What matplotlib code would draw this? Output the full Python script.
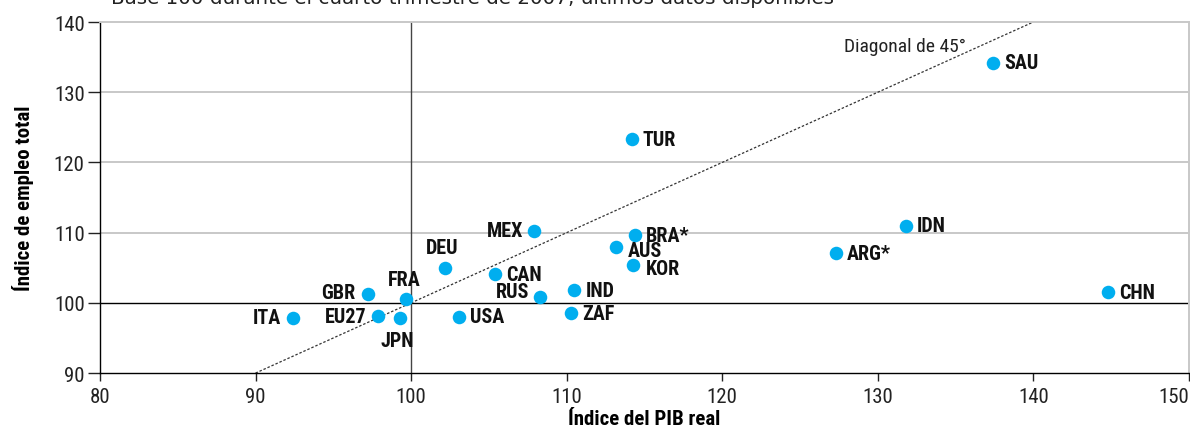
import matplotlib
matplotlib.use("Agg")
import matplotlib.pyplot as plt
from matplotlib import font_manager

# pick a condensed font if one is installed
available = {(f.name, f.stretch) for f in font_manager.fontManager.ttflist}
names = {f.name for f in font_manager.fontManager.ttflist}
font_name = 'DejaVu Sans'
font_stretch = 'normal'
for cand in ['Liberation Sans Narrow', 'Roboto Condensed', 'Open Sans Condensed',
             'Noto Sans Condensed', 'DejaVu Sans Condensed']:
    if cand in names:
        font_name = cand
        break
else:
    for n, s in available:
        if s in ('condensed', 'semi-condensed', 'extra-condensed') and n in ('DejaVu Sans', 'Noto Sans', 'Roboto', 'Open Sans'):
            font_name, font_stretch = n, s
            break
plt.rcParams['font.family'] = [font_name, 'DejaVu Sans']
plt.rcParams['font.stretch'] = font_stretch

# Data
countries = ['ITA', 'GBR', 'EU27', 'JPN', 'FRA', 'DEU', 'USA', 'CAN', 'MEX', 'RUS',
             'IND', 'ZAF', 'AUS', 'BRA*', 'KOR', 'TUR', 'SAU', 'IDN', 'ARG*', 'CHN']
gdp_index = [92.4, 97.2, 97.9, 99.3, 99.7, 102.2, 103.1, 105.4, 107.9, 108.3,
             110.5, 110.3, 113.2, 114.4, 114.3, 114.2, 137.4, 131.8, 127.3, 144.8]
emp_index = [97.9, 101.2, 98.1, 97.8, 100.5, 105.0, 98.0, 104.1, 110.3, 100.9,
             101.8, 98.5, 107.9, 109.6, 105.4, 123.3, 134.2, 111.0, 107.1, 101.5]

# label placement (offset in pixels, alignment)
label_pos = {
    'ITA': (-12, 0, 'right'), 'GBR': (-12, 2, 'right'), 'EU27': (-12, 0, 'right'),
    'JPN': (-3, -22, 'center'), 'FRA': (-2, 20, 'center'), 'DEU': (-3, 20, 'center'),
    'MEX': (-11, 0, 'right'), 'RUS': (-11, 5, 'right'), 'AUS': (11, -3, 'left'),
    'KOR': (12, -4, 'left'),
}

fig = plt.figure(figsize=(11.9, 4.35), dpi=100)
ax = fig.add_axes([0.084, 0.140, 0.915, 0.807])

ax.set_xlim(80, 150)
ax.set_ylim(90, 140)
ax.set_xticks(range(80, 151, 10))
ax.set_yticks(range(90, 141, 10))

# grid lines
for yv in [110, 120, 130]:
    ax.axhline(yv, color='#c8c8c8', lw=1.4, zorder=0)
ax.axhline(100, color='black', lw=1.0, zorder=1)
ax.axvline(100, color='#444444', lw=1.0, zorder=1)

# 45 degree diagonal
ax.plot([90, 140], [90, 140], color='#333333', lw=0.9, ls=(0, (2, 1.5)), zorder=2)
ax.text(135.7, 136.6, 'Diagonal de 45°', ha='right', va='center', fontsize=14, color='#222222')

ax.scatter(gdp_index, emp_index, s=95, color='#00aeef', zorder=3, linewidths=0)

for c, x, y in zip(countries, gdp_index, emp_index):
    dx, dy, ha = label_pos.get(c, (11, 0, 'left'))
    ax.annotate(c, (x, y), xytext=(dx, dy), textcoords='offset pixels',
                ha=ha, va='center', fontsize=14.5, fontweight='bold', color='#111111')

for side in ['top', 'right']:
    ax.spines[side].set_color('#c8c8c8')
    ax.spines[side].set_linewidth(1.4)
ax.spines['left'].set_linewidth(1.0)
ax.spines['bottom'].set_linewidth(1.0)

ax.tick_params(axis='y', length=9, width=1, labelsize=15, colors='#222222', pad=2)
ax.tick_params(axis='x', length=6, width=1, labelsize=15, colors='#222222', pad=4)
# last x label sits against the right edge
ax.get_xticklabels()[-1].set_horizontalalignment('right')

ax.set_xlabel('Índice del PIB real', fontsize=15, fontweight='bold', labelpad=2)
ax.set_ylabel('Índice de empleo total', fontsize=15, fontweight='bold', labelpad=14)

fig.text(0.093, 0.99, 'Base 100 durante el cuarto trimestre de 2007, últimos datos disponibles',
         ha='left', va='baseline', fontsize=14.3, color='#222222', family='DejaVu Sans')

plt.savefig('out.png', dpi=100)
